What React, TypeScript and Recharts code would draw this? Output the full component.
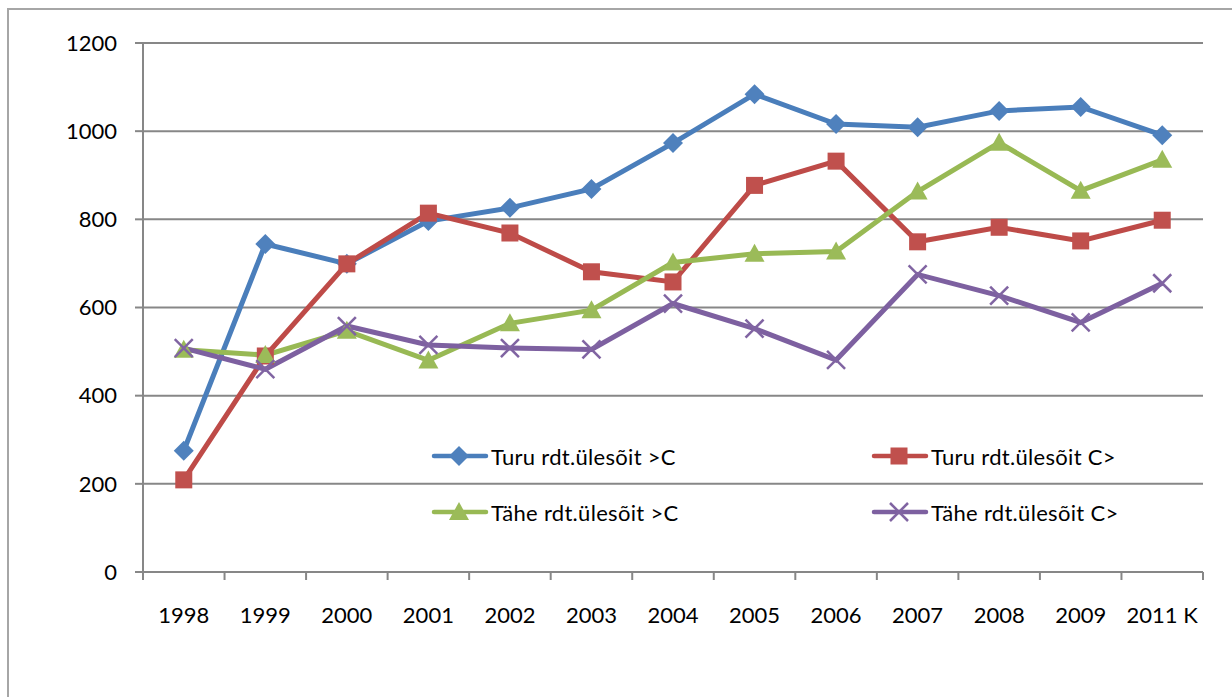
import { LineChart, Line, XAxis, YAxis, CartesianGrid } from "recharts"

const W = 1232
const H = 697
const M = { top: 43, right: 29, bottom: 65, left: 0 }
const Y_AXIS_W = 143

const years = ["1998", "1999", "2000", "2001", "2002", "2003", "2004", "2005", "2006", "2007", "2008", "2009", "2011 K"]
const turuOver = [275, 744, 699, 796, 826, 869, 973, 1084, 1016, 1009, 1046, 1055, 991]
const turuUnder = [209, 490, 699, 814, 769, 681, 658, 877, 932, 749, 782, 751, 798]
const taheOver = [504, 492, 547, 480, 564, 594, 702, 722, 727, 863, 974, 865, 935]
const taheUnder = [508, 460, 558, 515, 508, 505, 609, 552, 481, 675, 627, 566, 655]
const yTicks = [0, 200, 400, 600, 800, 1000, 1200]

const data = years.map((y, i) => ({
  year: y,
  turuOver: turuOver[i],
  turuUnder: turuUnder[i],
  taheOver: taheOver[i],
  taheUnder: taheUnder[i],
}))

const AXIS = "#878787"
const FONT = "Lato, 'Open Sans', sans-serif"

type Shape = "diamond" | "square" | "triangle" | "cross"

const series: { key: string; name: string; line: string; fill: string; shape: Shape }[] = [
  { key: "turuOver", name: "Turu rdt.ülesõit >C", line: "#4A7EBB", fill: "#4F81BD", shape: "diamond" },
  { key: "turuUnder", name: "Turu rdt.ülesõit C>", line: "#BE4B48", fill: "#C0504D", shape: "square" },
  { key: "taheOver", name: "Tähe rdt.ülesõit >C", line: "#98B954", fill: "#9BBB59", shape: "triangle" },
  { key: "taheUnder", name: "Tähe rdt.ülesõit C>", line: "#7D60A0", fill: "#8064A2", shape: "cross" },
]

function Marker({ cx, cy, shape, fill }: { cx: number; cy: number; shape: Shape; fill: string }) {
  if (shape === "diamond") {
    const r = 10
    return <polygon points={`${cx},${cy - r} ${cx + r},${cy} ${cx},${cy + r} ${cx - r},${cy}`} fill={fill} />
  }
  if (shape === "square") {
    const s = 8.5
    return <rect x={cx - s} y={cy - s} width={s * 2} height={s * 2} fill={fill} />
  }
  if (shape === "triangle") {
    const s = 10
    return <polygon points={`${cx},${cy - s} ${cx + s},${cy + s * 0.8} ${cx - s},${cy + s * 0.8}`} fill={fill} />
  }
  const r = 9
  return (
    <g stroke={fill} strokeWidth={2.5}>
      <line x1={cx - r} y1={cy - r} x2={cx + r} y2={cy + r} />
      <line x1={cx - r} y1={cy + r} x2={cx + r} y2={cy - r} />
    </g>
  )
}

const plotW = W - M.left - M.right - Y_AXIS_W
const band = plotW / years.length

function YearTick(props: any) {
  const { x, y, payload, index } = props
  const half = band / 2
  return (
    <g>
      <line x1={x - half} x2={x - half} y1={y} y2={y + 8} stroke={AXIS} strokeWidth={2} />
      {index === years.length - 1 && (
        <line x1={x + half} x2={x + half} y1={y} y2={y + 8} stroke={AXIS} strokeWidth={2} />
      )}
      <text x={x} y={y + 51} textAnchor="middle" fill="#000" fontSize={22} fontFamily={FONT}>
        {payload.value}
      </text>
    </g>
  )
}

function LegendItem({ s }: { s: (typeof series)[number] }) {
  return (
    <div style={{ display: "flex", alignItems: "center", height: 28 }}>
      <svg width={60} height={24} style={{ flex: "none" }}>
        <line x1={3} x2={55} y1={12} y2={12} stroke={s.line} strokeWidth={4.5} strokeLinecap="round" />
        <Marker cx={28} cy={12} shape={s.shape} fill={s.fill} />
      </svg>
      <span style={{ fontSize: 22, fontFamily: FONT, color: "#000", whiteSpace: "nowrap", letterSpacing: 0.3 }}>
        {s.name}
      </span>
    </div>
  )
}

export default function App() {
  return (
    <div style={{ position: "absolute", left: 0, top: 0, width: W, height: H, background: "#fff", overflow: "hidden" }}>
      <div
        style={{
          position: "absolute",
          left: 7,
          top: 8,
          width: W,
          height: H,
          borderLeft: `2px solid #a6a6a6`,
          borderTop: `2px solid #a6a6a6`,
        }}
      />
      <LineChart width={W} height={H} data={data} margin={M} style={{ position: "absolute", left: 0, top: 0 }}>
        <CartesianGrid vertical={false} stroke={AXIS} strokeWidth={2} />
        <XAxis
          dataKey="year"
          scale="band"
          interval={0}
          axisLine={{ stroke: AXIS, strokeWidth: 2 }}
          tickLine={false}
          tickSize={0}
          tickMargin={0}
          height={60}
          tick={<YearTick />}
        />
        <YAxis
          domain={[0, 1200]}
          ticks={yTicks}
          width={Y_AXIS_W}
          axisLine={{ stroke: AXIS, strokeWidth: 2 }}
          tickLine={{ stroke: AXIS, strokeWidth: 2 }}
          tickSize={8}
          tickMargin={18}
          tick={{ fill: "#000", fontSize: 22, fontFamily: FONT }}
        />
        {series.map((s) => (
          <Line
            key={s.key}
            dataKey={s.key}
            name={s.name}
            type="linear"
            stroke={s.line}
            strokeWidth={5}
            isAnimationActive={false}
            activeDot={false}
            dot={(p: any) => (
              <Marker key={`${s.key}-${p.index}`} cx={p.cx} cy={p.cy} shape={s.shape} fill={s.fill} />
            )}
          />
        ))}
      </LineChart>
      <div style={{ position: "absolute", left: 431, top: 442, display: "grid", gridTemplateColumns: "440px 300px", rowGap: 28 }}>
        {series.map((s) => (
          <LegendItem key={s.key} s={s} />
        ))}
      </div>
    </div>
  )
}
